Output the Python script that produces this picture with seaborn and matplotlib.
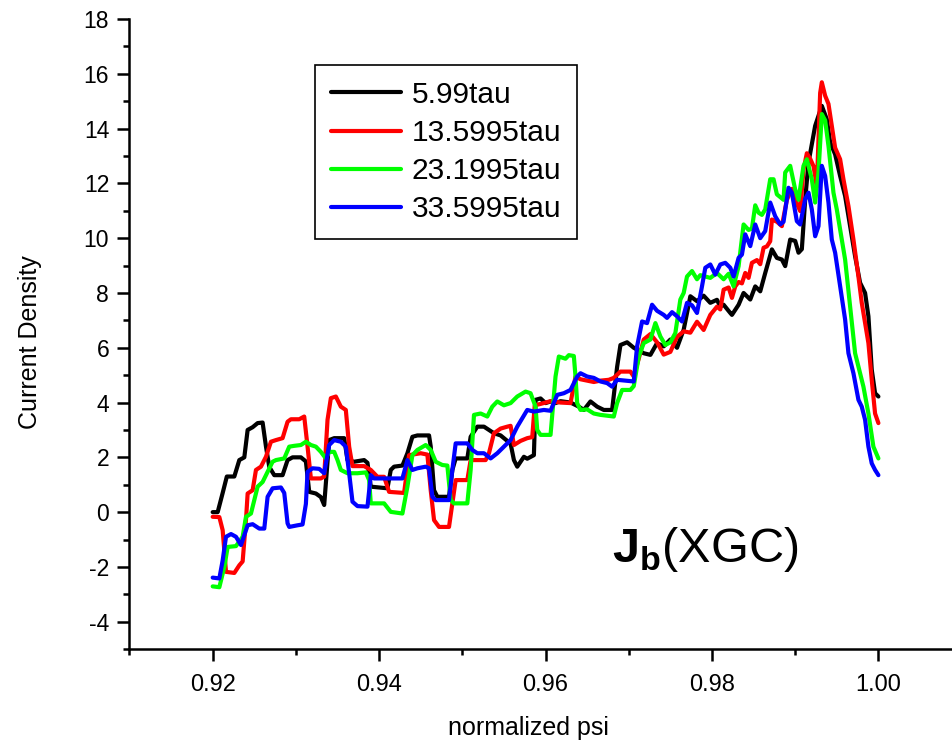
import matplotlib
matplotlib.use("Agg")
import matplotlib.pyplot as plt
from matplotlib.ticker import MultipleLocator, FixedLocator
import seaborn as sns
import pandas as pd

# ---------------- data (psi, current density) ----------------
series_names = ["5.99tau", "13.5995tau", "23.1995tau", "33.5995tau"]
series_colors = ["#000000", "#FF0000", "#00FF00", "#0000FF"]

black = [
    (0.9200, 0.00), (0.9206, 0.00), (0.9212, 0.70), (0.9217, 1.30), (0.9226, 1.30),
    (0.9232, 1.90), (0.9238, 2.00), (0.9242, 3.00), (0.9248, 3.10), (0.9254, 3.25),
    (0.9260, 3.27), (0.9264, 2.40), (0.9268, 1.65), (0.9274, 1.35), (0.9284, 1.35),
    (0.9290, 1.90), (0.9296, 2.00), (0.9306, 2.00), (0.9312, 1.85), (0.9316, 0.74),
    (0.9324, 0.68), (0.9330, 0.55), (0.9334, 0.26), (0.9340, 2.63), (0.9346, 2.70),
    (0.9358, 2.70), (0.9362, 1.90), (0.9370, 1.84), (0.9382, 1.90), (0.9386, 1.80),
    (0.9390, 0.93), (0.9410, 0.87), (0.9414, 1.54), (0.9418, 1.66), (0.9428, 1.70),
    (0.9434, 2.15), (0.9440, 2.75), (0.9446, 2.80), (0.9460, 2.80), (0.9462, 2.40),
    (0.9466, 0.80), (0.9470, 0.56), (0.9484, 0.56), (0.9488, 1.54), (0.9492, 1.96),
    (0.9506, 1.96), (0.9510, 2.75), (0.9518, 3.12), (0.9526, 3.12), (0.9532, 3.00),
    (0.9538, 2.88), (0.9546, 2.80), (0.9552, 2.65), (0.9558, 2.50), (0.9562, 1.90),
    (0.9566, 1.66), (0.9574, 2.02), (0.9578, 1.95), (0.9586, 2.08), (0.9588, 4.10),
    (0.9594, 4.15), (0.9600, 3.98), (0.9606, 4.04), (0.9612, 3.98), (0.9618, 4.05),
    (0.9630, 4.00), (0.9640, 3.85), (0.9646, 3.73), (0.9654, 4.04), (0.9662, 3.85),
    (0.9670, 3.73), (0.9680, 3.73), (0.9686, 5.30), (0.9690, 6.10), (0.9698, 6.20),
    (0.9706, 6.00), (0.9712, 5.90), (0.9718, 5.80), (0.9726, 5.74), (0.9734, 6.17),
    (0.9742, 6.05), (0.9750, 6.30), (0.9758, 6.00), (0.9766, 6.66), (0.9774, 7.88),
    (0.9782, 7.70), (0.9790, 7.90), (0.9798, 7.64), (0.9806, 7.75), (0.9810, 7.50),
    (0.9814, 7.57), (0.9822, 7.27), (0.9824, 7.20), (0.9832, 7.57), (0.9838, 8.00),
    (0.9846, 7.76), (0.9852, 8.24), (0.9858, 8.06), (0.9864, 8.73), (0.9872, 9.59),
    (0.9878, 9.28), (0.9884, 9.22), (0.9888, 8.98), (0.9894, 9.95), (0.9900, 9.90),
    (0.9904, 9.47), (0.9908, 9.60), (0.9912, 11.40), (0.9916, 12.76), (0.9924, 14.10),
    (0.9932, 14.83), (0.9938, 14.34), (0.9942, 13.50), (0.9948, 13.06), (0.9954, 12.27),
    (0.9960, 11.54), (0.9966, 10.44), (0.9972, 9.34), (0.9978, 8.37), (0.9984, 8.00),
    (0.9988, 7.15), (0.9992, 5.20), (0.9996, 4.34), (1.0000, 4.22),
]

red = [
    (0.9200, -0.17), (0.9208, -0.18), (0.9212, -0.66), (0.9216, -2.18), (0.9226, -2.22),
    (0.9232, -1.94), (0.9236, -1.80), (0.9240, -0.29), (0.9242, 0.68), (0.9248, 0.80),
    (0.9252, 1.54), (0.9258, 1.66), (0.9264, 2.02), (0.9270, 2.57), (0.9276, 2.63),
    (0.9284, 2.70), (0.9290, 3.30), (0.9294, 3.39), (0.9304, 3.39), (0.9310, 3.49),
    (0.9314, 2.39), (0.9318, 1.23), (0.9330, 1.23), (0.9334, 1.30), (0.9338, 3.37),
    (0.9342, 4.16), (0.9348, 4.22), (0.9354, 3.85), (0.9360, 3.73), (0.9364, 2.39),
    (0.9368, 1.68), (0.9382, 1.68), (0.9390, 1.54), (0.9398, 1.29), (0.9406, 1.29),
    (0.9412, 0.74), (0.9430, 0.70), (0.9436, 2.08), (0.9450, 2.15), (0.9458, 2.10),
    (0.9462, 0.80), (0.9466, -0.29), (0.9472, -0.54), (0.9484, -0.54), (0.9488, 0.32),
    (0.9492, 1.17), (0.9506, 1.17), (0.9510, 1.90), (0.9528, 1.90), (0.9532, 2.15),
    (0.9538, 2.88), (0.9546, 3.05), (0.9554, 3.12), (0.9558, 3.15), (0.9562, 2.45),
    (0.9570, 2.60), (0.9578, 2.70), (0.9584, 2.74), (0.9587, 3.90), (0.9594, 3.95),
    (0.9606, 4.05), (0.9618, 4.00), (0.9630, 3.98), (0.9636, 4.95), (0.9642, 4.85),
    (0.9650, 4.80), (0.9658, 4.75), (0.9666, 4.80), (0.9676, 4.83), (0.9682, 4.90),
    (0.9690, 5.13), (0.9702, 5.13), (0.9706, 4.95), (0.9712, 5.60), (0.9718, 6.30),
    (0.9726, 6.50), (0.9734, 6.20), (0.9742, 5.75), (0.9750, 5.85), (0.9758, 6.40),
    (0.9766, 6.60), (0.9774, 6.55), (0.9782, 6.95), (0.9790, 6.65), (0.9798, 7.20),
    (0.9806, 7.50), (0.9810, 7.40), (0.9814, 8.12), (0.9820, 8.20), (0.9824, 7.82),
    (0.9828, 8.24), (0.9832, 8.40), (0.9836, 8.35), (0.9840, 8.73), (0.9844, 8.55),
    (0.9848, 9.10), (0.9854, 9.20), (0.9858, 9.05), (0.9862, 9.65), (0.9866, 9.70),
    (0.9870, 9.89), (0.9872, 10.68), (0.9878, 10.60), (0.9884, 10.44), (0.9890, 11.40),
    (0.9896, 11.80), (0.9900, 11.40), (0.9906, 10.99), (0.9910, 12.50), (0.9914, 13.10),
    (0.9918, 12.90), (0.9922, 12.63), (0.9926, 11.90), (0.9930, 15.30), (0.9932, 15.69),
    (0.9936, 15.20), (0.9940, 14.90), (0.9944, 14.10), (0.9948, 13.30), (0.9954, 12.88),
    (0.9958, 12.15), (0.9964, 11.17), (0.9970, 9.95), (0.9976, 8.60), (0.9980, 7.64),
    (0.9984, 6.90), (0.9988, 6.17), (0.9992, 4.83), (0.9996, 3.60), (1.0000, 3.25),
]

green = [
    (0.9200, -2.71), (0.9208, -2.74), (0.9214, -2.00), (0.9218, -1.27), (0.9228, -1.24),
    (0.9236, -0.90), (0.9240, -0.17), (0.9246, -0.05), (0.9250, 0.44), (0.9254, 0.93),
    (0.9260, 1.10), (0.9266, 1.47), (0.9272, 1.84), (0.9276, 1.90), (0.9286, 1.96),
    (0.9292, 2.39), (0.9298, 2.42), (0.9306, 2.45), (0.9312, 2.57), (0.9318, 2.45),
    (0.9324, 2.39), (0.9330, 2.20), (0.9336, 1.96), (0.9340, 2.20), (0.9346, 2.20),
    (0.9350, 1.90), (0.9354, 1.54), (0.9362, 1.42), (0.9374, 1.42), (0.9384, 1.45),
    (0.9388, 1.17), (0.9390, 0.32), (0.9406, 0.32), (0.9414, 0.01), (0.9428, -0.05),
    (0.9434, 0.93), (0.9440, 2.08), (0.9446, 2.27), (0.9456, 2.45), (0.9462, 2.27),
    (0.9468, 1.84), (0.9476, 1.72), (0.9482, 1.70), (0.9486, 0.44), (0.9490, 0.32),
    (0.9506, 0.32), (0.9510, 1.54), (0.9514, 3.55), (0.9522, 3.60), (0.9530, 3.49),
    (0.9536, 3.85), (0.9542, 4.04), (0.9550, 3.90), (0.9558, 3.98), (0.9566, 4.22),
    (0.9576, 4.40), (0.9582, 4.34), (0.9588, 3.85), (0.9590, 3.00), (0.9594, 2.82),
    (0.9606, 2.82), (0.9612, 4.95), (0.9616, 5.68), (0.9624, 5.60), (0.9628, 5.73),
    (0.9634, 5.70), (0.9636, 4.95), (0.9638, 3.98), (0.9642, 3.73), (0.9650, 3.75),
    (0.9658, 3.60), (0.9666, 3.55), (0.9674, 3.52), (0.9682, 3.49), (0.9686, 3.98),
    (0.9692, 4.46), (0.9702, 4.46), (0.9706, 4.60), (0.9712, 5.68), (0.9718, 6.17),
    (0.9726, 6.30), (0.9732, 6.90), (0.9738, 6.41), (0.9744, 6.10), (0.9750, 6.20),
    (0.9756, 6.54), (0.9762, 7.76), (0.9766, 8.00), (0.9770, 8.60), (0.9776, 8.80),
    (0.9782, 8.50), (0.9786, 8.65), (0.9792, 8.60), (0.9798, 8.55), (0.9806, 8.73),
    (0.9814, 8.50), (0.9820, 8.70), (0.9826, 8.24), (0.9832, 8.98), (0.9838, 10.50),
    (0.9844, 10.30), (0.9848, 10.35), (0.9852, 11.20), (0.9856, 10.93), (0.9860, 10.85),
    (0.9864, 11.05), (0.9870, 12.15), (0.9874, 12.15), (0.9878, 11.60), (0.9886, 11.40),
    (0.9888, 12.40), (0.9894, 12.64), (0.9900, 11.78), (0.9904, 11.40), (0.9910, 12.64),
    (0.9914, 12.88), (0.9920, 12.15), (0.9924, 11.30), (0.9928, 12.40), (0.9932, 14.53),
    (0.9936, 14.30), (0.9940, 13.37), (0.9946, 11.66), (0.9950, 11.05), (0.9956, 9.95),
    (0.9960, 9.22), (0.9966, 7.51), (0.9972, 5.80), (0.9978, 5.07), (0.9982, 4.58),
    (0.9988, 3.60), (0.9994, 2.39), (1.0000, 1.96),
]

blue = [
    (0.9200, -2.39), (0.9208, -2.42), (0.9212, -1.76), (0.9216, -0.90), (0.9222, -0.80),
    (0.9228, -0.90), (0.9234, -1.20), (0.9242, -0.48), (0.9248, -0.44), (0.9256, -0.60),
    (0.9262, -0.60), (0.9266, 0.56), (0.9272, 0.87), (0.9282, 0.90), (0.9286, 0.70),
    (0.9290, -0.41), (0.9292, -0.54), (0.9302, -0.48), (0.9308, -0.45), (0.9312, 0.30),
    (0.9314, 1.47), (0.9320, 1.60), (0.9328, 1.58), (0.9334, 1.42), (0.9340, 2.45),
    (0.9346, 2.63), (0.9354, 2.57), (0.9360, 2.39), (0.9364, 1.42), (0.9368, 0.38),
    (0.9374, 0.22), (0.9386, 0.20), (0.9390, 1.35), (0.9394, 1.23), (0.9406, 1.23),
    (0.9428, 1.23), (0.9434, 1.90), (0.9440, 1.54), (0.9446, 1.60), (0.9456, 1.66),
    (0.9460, 1.60), (0.9464, 0.56), (0.9468, 0.44), (0.9484, 0.44), (0.9488, 1.54),
    (0.9492, 2.51), (0.9506, 2.51), (0.9512, 2.27), (0.9518, 2.15), (0.9526, 2.15),
    (0.9534, 1.96), (0.9542, 2.15), (0.9550, 2.39), (0.9558, 2.63), (0.9566, 3.12),
    (0.9578, 3.73), (0.9586, 3.67), (0.9598, 3.73), (0.9606, 3.70), (0.9614, 4.28),
    (0.9622, 4.34), (0.9630, 4.46), (0.9638, 4.95), (0.9642, 5.07), (0.9650, 4.95),
    (0.9658, 4.90), (0.9666, 4.77), (0.9674, 4.71), (0.9680, 4.58), (0.9686, 4.83),
    (0.9696, 4.80), (0.9706, 4.77), (0.9710, 6.05), (0.9716, 6.96), (0.9722, 6.90),
    (0.9728, 7.57), (0.9734, 7.35), (0.9742, 7.20), (0.9746, 7.09), (0.9752, 7.30),
    (0.9758, 7.15), (0.9764, 6.96), (0.9770, 7.64), (0.9776, 7.55), (0.9782, 7.27),
    (0.9788, 8.24), (0.9792, 8.92), (0.9798, 9.04), (0.9804, 8.67), (0.9810, 9.04),
    (0.9816, 9.10), (0.9822, 8.92), (0.9826, 8.60), (0.9832, 9.28), (0.9836, 9.40),
    (0.9840, 10.14), (0.9846, 9.71), (0.9852, 10.50), (0.9858, 10.00), (0.9864, 10.26),
    (0.9870, 11.30), (0.9876, 10.80), (0.9882, 10.50), (0.9886, 10.60), (0.9892, 11.84),
    (0.9896, 11.66), (0.9902, 10.62), (0.9906, 10.50), (0.9912, 11.42), (0.9916, 11.66),
    (0.9920, 11.05), (0.9924, 10.07), (0.9928, 10.44), (0.9932, 12.64), (0.9936, 12.27),
    (0.9940, 11.30), (0.9944, 9.95), (0.9948, 9.47), (0.9954, 8.24), (0.9960, 7.03),
    (0.9964, 5.80), (0.9970, 5.07), (0.9976, 4.10), (0.9980, 3.85), (0.9984, 3.37),
    (0.9988, 2.39), (0.9992, 1.78), (0.9996, 1.54), (1.0000, 1.35),
]

x_ticks = [0.92, 0.94, 0.96, 0.98, 1.00]
x_tick_labels = ["0.92", "0.94", "0.96", "0.98", "1.00"]
y_ticks = [-4, -2, 0, 2, 4, 6, 8, 10, 12, 14, 16, 18]

# ---------------- build long table ----------------
rows = []
for name, pts in zip(series_names, [black, red, green, blue]):
    for px, jy in pts:
        rows.append({"psi": px, "J": jy, "series": name})
df = pd.DataFrame(rows)

# ---------------- style ----------------
sns.set_theme(style="ticks")
plt.rcParams["font.family"] = ["Liberation Sans", "DejaVu Sans"]
plt.rcParams["axes.unicode_minus"] = False
plt.rcParams["text.color"] = "black"
plt.rcParams["axes.labelcolor"] = "black"
plt.rcParams["xtick.color"] = "black"
plt.rcParams["ytick.color"] = "black"
plt.rcParams["mathtext.fontset"] = "custom"
plt.rcParams["mathtext.rm"] = "Liberation Sans"
plt.rcParams["mathtext.bf"] = "Liberation Sans:bold"

fig = plt.figure(figsize=(9.52, 7.45), dpi=100)
fig.patch.set_facecolor("white")
ax = fig.add_axes([0.1360, 0.1287, 0.8741, 0.8458])
ax.set_facecolor("white")

sns.lineplot(data=df, x="psi", y="J", hue="series", hue_order=series_names,
             palette=series_colors, estimator=None, sort=True, linewidth=3.0,
             ax=ax, legend=True)

ax.set_xlim(0.91, 1.01)
ax.set_ylim(-5, 18)
ax.xaxis.set_major_locator(FixedLocator(x_ticks))
ax.set_xticklabels(x_tick_labels)
ax.xaxis.set_minor_locator(MultipleLocator(0.01))
ax.yaxis.set_major_locator(FixedLocator(y_ticks))
ax.yaxis.set_minor_locator(MultipleLocator(1))

for s in ["top", "right"]:
    ax.spines[s].set_visible(False)
for s in ["left", "bottom"]:
    ax.spines[s].set_linewidth(1.8)
    ax.spines[s].set_color("black")

ax.tick_params(axis="both", which="major", direction="out", length=8.6, width=1.8,
               color="black", labelcolor="black")
ax.tick_params(axis="both", which="minor", direction="out", length=4.3, width=1.8,
               color="black")
ax.tick_params(axis="y", which="major", labelsize=16.5, pad=6)
ax.tick_params(axis="x", which="major", labelsize=17, pad=9)

ax.set_xlabel("")
ax.set_ylabel("")
fig.text(528 / 952, 1 - 728 / 745, "normalized psi", fontsize=18, color="black",
         ha="center", va="center")
fig.text(30 / 952, 1 - 342 / 745, "Current Density", fontsize=18, color="black",
         rotation=90, ha="center", va="center")

# legend
handles, labels = ax.get_legend_handles_labels()
for h in handles:
    h.set_linewidth(3.0)
leg = ax.legend(handles, labels, loc="upper left", bbox_to_anchor=(0.2229, 0.927),
                borderaxespad=0, fontsize=21.5, handlelength=2.35, handletextpad=0.35,
                labelspacing=0.34, borderpad=0.53, frameon=True, fancybox=False,
                framealpha=1, edgecolor="black", labelcolor="black")
leg.get_frame().set_linewidth(1.2)

# annotation
fig.text(612 / 952, 1 - 562 / 745, r"$\mathbf{J}_\mathbf{b}$(XGC)", fontsize=35,
         color="black", ha="left", va="baseline")

fig.savefig("out.png", dpi=100, facecolor="white")
